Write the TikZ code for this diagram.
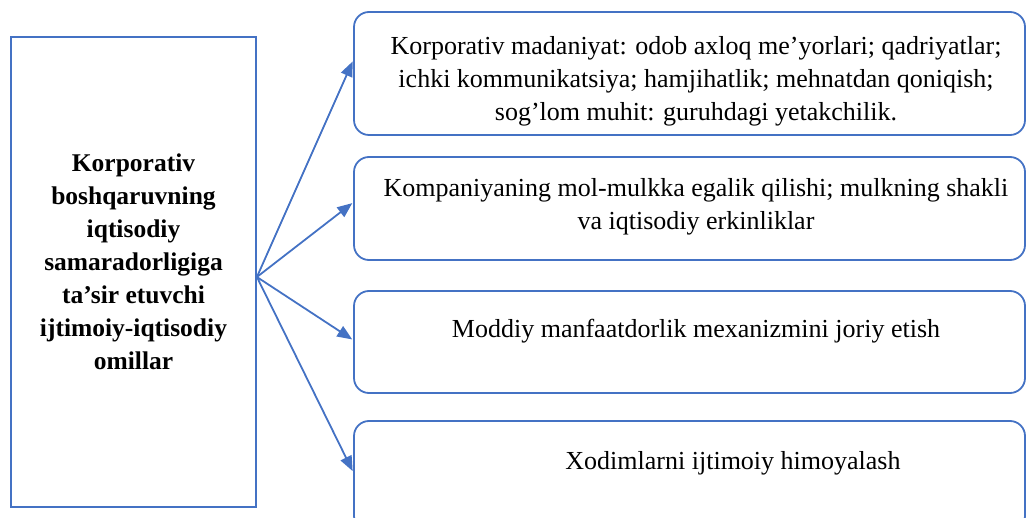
\documentclass[tikz,border=0pt]{standalone}
\usepackage{fontspec}
\setmainfont{Liberation Serif}
\usetikzlibrary{arrows.meta, positioning}
\definecolor{lineblue}{RGB}{68, 114, 196}
\tikzset{
  mainbox/.style={
    rectangle, draw=lineblue, line width=1.8pt,
    minimum width=245pt, minimum height=470pt
  },
  maintext/.style={
    font=\fontsize{25.5}{33}\selectfont\bfseries, align=center, inner sep=0pt
  },
  itembox/.style={
    rectangle, rounded corners=15pt, draw=lineblue, line width=1.8pt,
    minimum width=671pt
  },
  itemtext/.style={
    font=\fontsize{26}{33}\selectfont, align=center, inner sep=0pt
  },
  arrow/.style={
    -{Triangle[length=15pt, width=12pt]}, line width=1.8pt, color=lineblue,
    shorten >=1pt
  }
}
\begin{document}
\begin{tikzpicture}[x=1pt, y=-1pt]
  \useasboundingbox (0,0) rectangle (1027,518);

  % main factor box
  \node[mainbox] (main) at (133.5,272) {};
  \node[maintext] (mtext) at (133.5,262)
    {Korporativ\\boshqaruvning\\iqtisodiy\\samaradorligiga\\ta’sir etuvchi\\ijtimoiy-iqtisodiy\\omillar};

  % right boxes
  \node[itembox, minimum height=123pt] (b1) at (689.5,73.5) {};
  \node[itembox, minimum height=103pt] (b2) at (689.5,208.5) {};
  \node[itembox, minimum height=102pt] (b3) at (689.5,342) {};
  \node[itembox, minimum height=110pt] (b4) at (689.5,476) {};

  % texts of the boxes
  \node[itemtext] (t1) at (696,81)
    {Korporativ madaniyat: odob axloq me’yorlari; qadriyatlar;\\ichki kommunikatsiya; hamjihatlik; mehnatdan qoniqish;\\sog’lom muhit: guruhdagi yetakchilik.};
  \node[itemtext] (t2) at (696,207)
    {Kompaniyaning mol-mulkka egalik qilishi; mulkning shakli\\va iqtisodiy erkinliklar};
  \node[itemtext] (t3) at (696,331) {Moddiy manfaatdorlik mexanizmini joriy etish};
  \node[itemtext] (t4) at (733,463) {Xodimlarni ijtimoiy himoyalash};

  % arrows
  \draw[arrow] ([yshift=-5pt]main.east) -- ([yshift=13pt]b1.west);
  \draw[arrow] ([yshift=-5pt]main.east) -- ([yshift=6pt]b2.west);
  \draw[arrow] ([yshift=-5pt]main.east) -- ([yshift=2pt]b3.west);
  \draw[arrow] ([yshift=-5pt]main.east) -- ([yshift=4pt]b4.west);

\end{tikzpicture}
\end{document}
